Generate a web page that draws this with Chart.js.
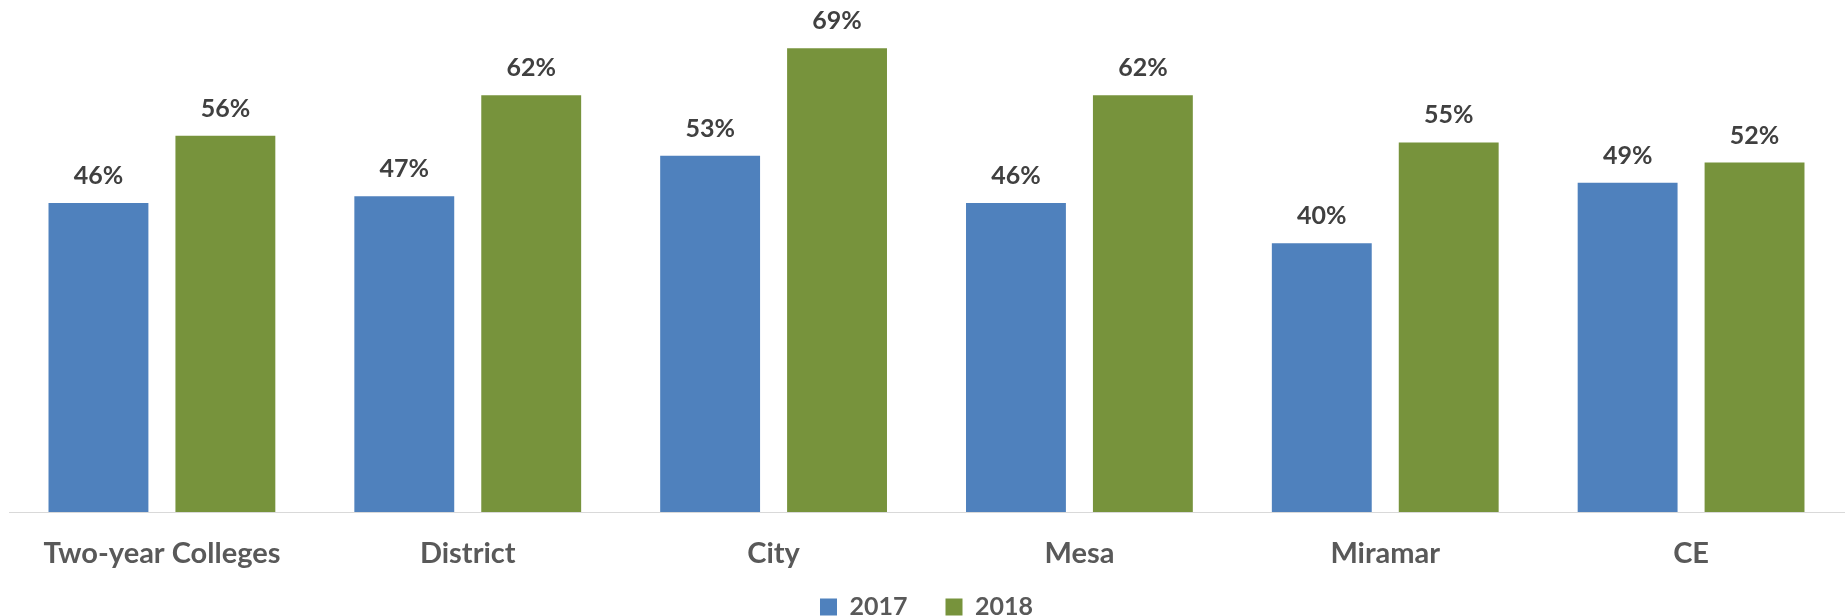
<!DOCTYPE html>
<html>
<head>
<meta charset="utf-8">
<script src="https://cdn.jsdelivr.net/npm/chart.js@4"></script>
<style>
  html, body { margin: 0; padding: 0; background: #fff; }
  #wrap { width: 1845px; height: 616px; }
</style>
</head>
<body>
<div id="wrap"><canvas id="myChart" width="1845" height="616"></canvas></div>
<script>
var categories = ['Two-year Colleges', 'District', 'City', 'Mesa', 'Miramar', 'CE'];
var seriesNames = ['2017', '2018'];
var values2017 = [46, 47, 53, 46, 40, 49];
var values2018 = [56, 62, 69, 62, 55, 52];

var FONT = 'Lato, "Open Sans", sans-serif';

// draws the % labels above each bar
var barLabels = {
    id: 'barLabels',
    afterDatasetsDraw: function (chart) {
        var ctx = chart.ctx;
        ctx.save();
        ctx.font = 'bold 25px ' + FONT;
        ctx.fillStyle = '#404040';
        ctx.textAlign = 'center';
        ctx.textBaseline = 'alphabetic';
        chart.data.datasets.forEach(function (ds, i) {
            chart.getDatasetMeta(i).data.forEach(function (bar, j) {
                ctx.fillText(ds.data[j] + '%', bar.x, bar.y - 19);
            });
        });
        ctx.restore();
    }
};

var ctx_live = document.getElementById('myChart');
var myChart = new Chart(ctx_live, {
    type: 'bar',
    data: {
        labels: categories,
        datasets: [{
            label: seriesNames[0],
            data: values2017,
            backgroundColor: '#4F81BD'
        }, {
            label: seriesNames[1],
            data: values2018,
            backgroundColor: '#77933C'
        }]
    },
    options: {
        responsive: false,
        animation: false,
        categoryPercentage: 0.83,
        barPercentage: 0.787,
        layout: {
            padding: { left: 9, right: 1, top: 8, bottom: -13.5 }
        },
        scales: {
            x: {
                grid: { display: false, drawTicks: false },
                border: { display: true, color: '#D9D9D9', width: 1 },
                ticks: {
                    padding: 24,
                    color: '#595959',
                    font: { family: FONT, size: 29, weight: 'bold' }
                },
                afterFit: function (scale) {
                    scale.height = 44.5;
                    // labels hang into the legend band, so don't clip them to the axis box
                    scale._computeLabelArea = function () {};
                }
            },
            y: {
                display: false,
                min: 0,
                max: 75
            }
        },
        plugins: {
            legend: {
                position: 'bottom',
                labels: {
                    boxWidth: 17,
                    boxHeight: 17,
                    padding: 38,
                    color: '#595959',
                    font: { family: FONT, size: 25, weight: 'bold' }
                }
            },
            tooltip: { enabled: false }
        }
    },
    plugins: [barLabels]
});
</script>
</body>
</html>
